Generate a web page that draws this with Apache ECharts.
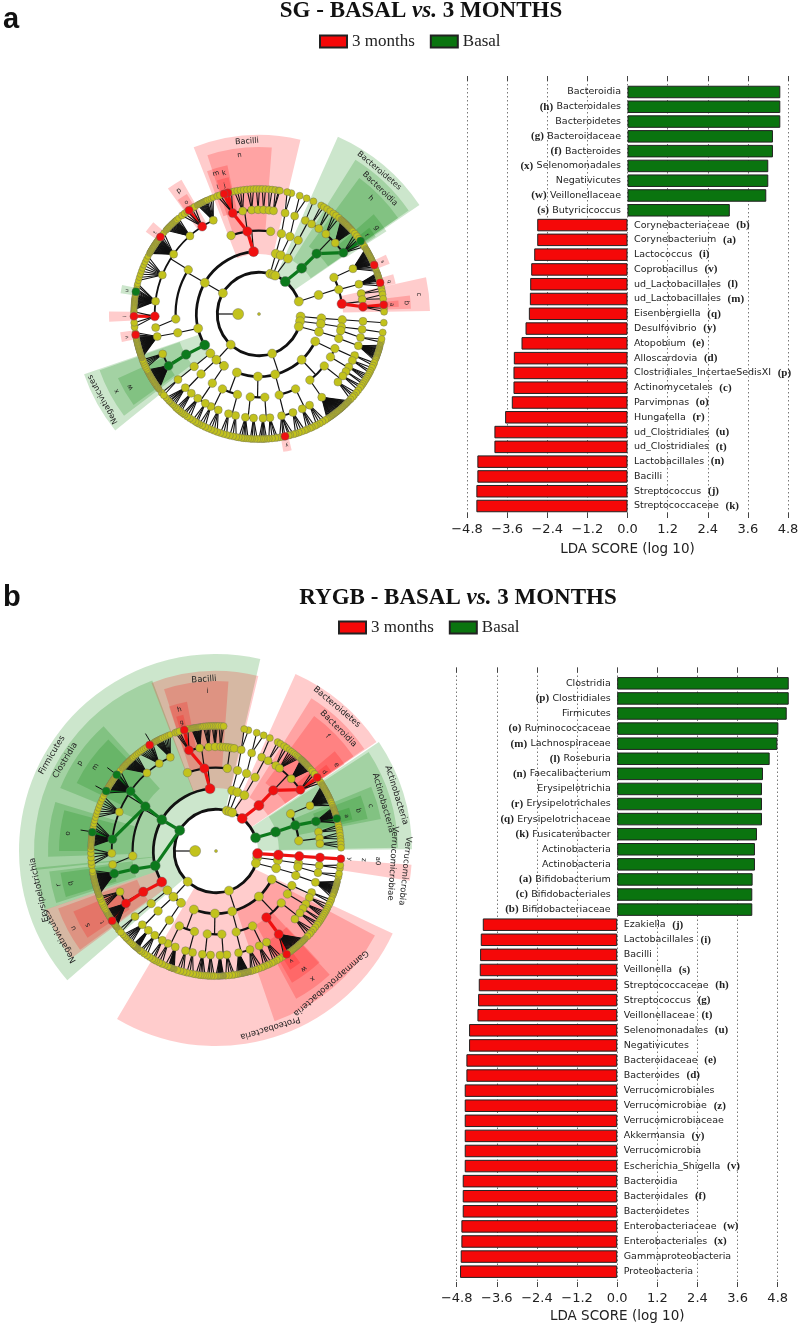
<!DOCTYPE html>
<html>
<head>
<meta charset="utf-8">
<style>html,body{margin:0;padding:0;background:#fff}#c{width:800px;height:1325px}</style>
<script src="https://cdn.jsdelivr.net/npm/echarts@6/dist/echarts.min.js"></script>
</head>
<body>
<div id="c"></div>
<script>
// ---------- LDA bars ----------
const tickLabels = ['\u22124.8','\u22123.6','\u22122.4','\u22121.2','0.0','1.2','2.4','3.6','4.8'];

const sgNames = ['Bacteroidia','Bacteroidales','Bacteroidetes','Bacteroidaceae','Bacteroides','Selenomonadales','Negativicutes','Veillonellaceae','Butyricicoccus','Corynebacteriaceae','Corynebacterium','Lactococcus','Coprobacillus','ud_Lactobacillales','ud_Lactobacillales','Eisenbergiella','Desulfovibrio','Atopobium','Alloscardovia','Clostridiales_IncertaeSedisXI','Actinomycetales','Parvimonas','Hungatella','ud_Clostridiales','ud_Clostridiales','Lactobacillales','Bacilli','Streptococcus','Streptococcaceae'];
const sgTags = ['','(h)','','(g)','(f)','(x)','','(w)','(s)','(b)','(a)','(i)','(v)','(l)','(m)','(q)','(y)','(e)','(d)','(p)','(c)','(o)','(r)','(u)','(t)','(n)','','(j)','(k)'];
const sgScores = [4.57,4.57,4.57,4.35,4.35,4.21,4.21,4.15,3.06,-2.70,-2.70,-2.79,-2.88,-2.91,-2.92,-2.95,-3.05,-3.17,-3.40,-3.41,-3.41,-3.46,-3.66,-3.98,-3.98,-4.49,-4.49,-4.52,-4.52];

const rygbNames = ['Clostridia','Clostridiales','Firmicutes','Ruminococcaceae','Lachnospiraceae','Roseburia','Faecalibacterium','Erysipelotrichia','Erysipelotrichales','Erysipelotrichaceae','Fusicatenibacter','Actinobacteria','Actinobacteria','Bifidobacterium','Bifidobacteriales','Bifidobacteriaceae','Ezakiella','Lactobacillales','Bacilli','Veillonella','Streptococcaceae','Streptococcus','Veillonellaceae','Selenomonadales','Negativicutes','Bacteroidaceae','Bacteroides','Verrucomicrobiales','Verrucomicrobiae','Verrucomicrobiaceae','Akkermansia','Verrucomicrobia','Escherichia_Shigella','Bacteroidia','Bacteroidales','Bacteroidetes','Enterobacteriaceae','Enterobacteriales','Gammaproteobacteria','Proteobacteria'];
const rygbTags = ['','(p)','','(o)','(m)','(l)','(n)','','(r)','(q)','(k)','','','(a)','(c)','(b)','(j)','(i)','','(s)','(h)','(g)','(t)','(u)','','(e)','(d)','','(z)','','(y)','','(v)','','(f)','','(w)','(x)','',''];
const rygbScores = [5.13,5.13,5.07,4.82,4.79,4.56,4.36,4.33,4.33,4.33,4.18,4.12,4.12,4.05,4.04,4.04,-4.02,-4.08,-4.10,-4.11,-4.14,-4.16,-4.18,-4.43,-4.43,-4.51,-4.51,-4.56,-4.56,-4.56,-4.56,-4.56,-4.56,-4.62,-4.62,-4.62,-4.66,-4.66,-4.68,-4.70];

// ---------- Cladograms: [angle (deg clockwise from top), optional 'r'|'g', ...children]; a bare number is a leaf ----------
const sgTree = [270,
 [93.5,[94,[94,[94,94]]]],
 [100,[99,[99,[98.5,98.5]]]],
 [107.5,[106.5,[101.5,[103,103,101.5]],[107,[107.7,104.5,105,105.5,106,106.3,106.7,107,107.4,107.8,108.2,108.6,109,109.5,110,110.3,110.7,111.2,112]]]],
 [161.6,
  [116,[114.5,[113.5,113,114.3],[116.5,115.5,117,118]],[121,[120.5,119,120,121,122],[123.5,123,124]]],
  [137,[128.5,[126.5,125,126,127.5],[130.8,129,130.5,131.5,133]],[142.4,[143,134,134.5,135,135.4,135.8,136.2,136.6,137,137.5,137.9,138.2,138.6,139,139.4,139.8,140.2,140.7,141.1,141.5,142,142.4,142.9,143.3,143.8,144.2,144.6,145,145.5,146,146.5,147]]],
  [165,[154,[151,148,149.5,151,152.5],[155.5,153.5,155,156,157.5]],[166,[161,158.5,160,161.5,163],[167.5,164,165.5,166.3,[168,'r'],169,170.5]]],
  [181,[176,[174,171.5,172.5,174,175.5],[177.8,176.5,177.5,178.2,179,180]],[186,[183,180.8,182,183.2,184],[187.5,185,186,187,188,189.3]]],
  [200.7,[195,[193,190.5,192,193.5],[197,195,196.5,198]],[206,[203,199.5,201,202.5,204],[207.5,205.5,207,208.5]]]],
 [222.7,
  [214,[214,[211,209.5,210.5,212],[216,213.5,215,216.5,217.5]]],
  [223,[224,[220.5,218.5,219.5,220.5,221.5],[225,222.5,223.5,224.5,225.5,226,227,228]]],
  [231,[231,[231,231,229.5]]]],
 [300,
  [240.2,'g',[240.9,'g',[240.2,'g',233,233.4,233.8,234.2,234.6,235,235.4,235.8,236.2,236.6,237,237.4,237.8,238.2,238.6,239,239.4,239.8,240.2,240.6,241,241.4,241.8,242.2,242.6,243,243.4],[247.5,244.5,245.5,246.5,247.5,248.5]]],
  [256.7,[257,[257.5,[260.4,'r'],249.5,249.9,250.3,250.7,251,251.4,251.8,252.2,252.5,252.9,253.2,253.6,254,254.4,254.8,255.2,255.5,255.9,256.3,256.7,257,257.4,257.8,258.2,258.5,258.9,259.2,259.8,261.5]]],
  [300,[266.6,262.5],
   [302,
    [268.7,'r',[269,'r'],264,266,271],
    [277,[280.3,'g'],272,272.5,273,273.5,274,274.5,275,275.4,275.8,276.2,276.6,277,277.4,277.8,278.2,278.6,279,279.6,280.8,281.5,283,284],
    [292,285.5,287,288.5,290,291.5,293,294.5,296,297.5],
    [305,[308,'r'],299,299.4,299.8,300.2,300.6,301,301.4,301.8,302.2,302.6,303,303.4,303.8,304.2,304.6,305,305.4,305.8,306.2,306.6,307,307.5,309,310.5],
    [318.5,312,312.5,313,313.5,314,314.5,315,315.5,316,316.5,317,317.5,318,318.5,319,320],
    [327,'r',[326,'r'],322,323.5,325,327.5,329],
    [334,330.5,331,331.5,332,332.5,333,333.5,334,334.5,335,335.5,336.5,337.5,338.5]]],
  [355,'r',[340.4],
   [352,'r',[345.4,'r',[345.6,'r'],[343.8,'r'],340.5,341.8,347.3],[351,348.6,350,351.5,353],[356,354.5,356,357.5],[359.5,358.8,360.2],[362.5,361.5,363],[365.5,364.5,366],[368,367.5,369,369.6]],
   [368]]],
 [375.5,[15.6,[15.6,[14.5,15,13]]]],
 [379.6,[20.4,[21.8,[20,19,22.4]]]],
 [383,[27.6,[28,[26.4,25.8],[30.3,29.8,31.2],[35,33,34.7]]]],
 [399,'g',[43,'g',[43.7,'g',[39.9,36.5,38,39.8],[47,41,41.4,41.7,42.1,42.4,42.8,43.1,43.5,43.8,44.2,44.5,44.9,45.2,45.6,46,46.4,46.8,47.2,47.6,48,48.5],[54,'g',[54.3,'g'],50,51.5,53,56,57.5]]]],
 [432.6,[72.3,
   [64,[64.3,58.5,59,59.3,59.7,60,60.4,60.8,61.2,61.6,62,62.4,62.8,63.2,63.6,64,64.4,64.8,65.2,65.6,66,66.3,66.7,[67,'r'],68,69,70]],
   [73,[73.4,70.8,71.2,71.5,71.9,72.2,72.6,73,73.4,73.8,74.2,74.6,[75.5,'r'],77]],
   [83,'r',[78.7,78,79.5],[82,81,83],[86,'r',[85.8,'r'],87.5,89]]]]
];

const rygbTree = [270,
 [93.6,'r',[93.6,'r',[93.6,'r',[93.6,'r',[93.6,'r']]]]],
 [99,[98.5,[98.5,[98,98,96.5]]]],
 [107,[106,[101,[102,102,100.5]],[107,[107.5,104,104.5,105,105.5,106,106.4,106.8,107.2,107.5,107.9,108.3,108.7,109,109.5,110,110.5,111,112]]]],
 [161.9,
  [117,[114.5,[113.5,113,114.3],[116.5,115.5,117,118]],[121,[120.5,119,120,121,122],[123.5,123,124]]],
  [136.7,[128.5,[126.5,125,126,127.5],[130.8,129,130.5,131.5,133]],[142.8,'r',[143,'r',[145.6,'r'],134.5,135,135.5,136,136.5,137,137.5,138,138.5,139,139.5,140,140.5,141,141.5,142,142.5,143,143.5,144,144.5,147]]],
  [165,[154,[151,148,149.5,151,152.5],[155.5,153.5,155,156,157.5]],[166,[161,158.5,160,161.5,163,164],[167.5,164.8,165.2,165.5,165.9,166.3,166.6,167,167.3,167.7,168,168.4,168.8,169.1,169.5,169.8,170.5]]],
  [181,[176,[174,171.5,172.5,174,175.5],[177.8,176.5,176.9,177.2,177.6,177.9,178.3,178.6,179,179.3,180]],[186,[183,180.8,182,183.2,184],[187.5,185,186,187,188,189.3]]],
  [200.7,[195,[193,190.5,192,193.5],[197,195,196.5,198]],[206,[203,199.5,199.9,200.3,200.7,201,201.4,201.8,202.2,202.5,204],[207.5,205.5,207,208.5]]]],
 [222.7,
  [214,[214,[211,209.5,210.5,212],[216,213.5,215,216.5,217.5]]],
  [223,[224,[220.5,218.5,218.9,219.3,219.7,220,220.4,220.8,221.2,221.5],[225,222.5,223.5,224.5,225.5,226,227,228]]],
  [231,[231,[231,231,229.5]]]],
 [299.6,'g',
  [240.2,'r',[240.7,'r',[239.8,'r',[236.1,'r'],232.5,232.9,233.3,233.7,234,234.5,235,235.5,236.5,237,237.5,238,238.4,238.8,239.2,239.6,240,240.4,240.8,241.2,241.6,242],[247,243,244,245,246,[247.5],248.5]]],
  [256.4,'g',[257.5,'g',[257.5,'g',249.5,249.9,250.3,250.7,251,251.4,251.8,252.2,252.5,252.9,253.2,253.6,254,254.4,254.8,255.2,255.5,255.9,256.3,256.7,257,257.4,257.8,258.2,258.5,258.9,259.2,259.6,260,261]]],
  [300,'g',[266.6,262.5],
   [302.2,'g',
    [268.7,263.5,265,267,269,271],
    [276.5,'g',[278.6,'g'],272,272.5,273,273.5,274,274.5,275,275.4,275.8,276.2,276.6,277,277.4,277.8,280,281,282.5,284],
    [292,285.5,287,288.5,290,291.5,293,294.5,296],
    [305,'g',[298.6,'g'],[307.5,'g'],297.5,299.5,299.9,300.3,300.7,301,301.4,301.8,302.2,302.6,303,303.4,303.8,304.2,304.6,305,305.4,305.8,306.2,306.6,308.5,310],
    [318.5,311.5,312,312.5,313,313.5,314,314.5,315,315.5,316,316.5,317,317.5,318,318.5,319.5,320.5],
    [327,321.5,322.5,323.5,324.5,325.5,326.5,327.5,[328,'r'],328.5,329.5],
    [334,330.5,331,331.5,332,332.5,333,333.5,334,334.5,335.5,336.5,337.5,338.5]]],
  [354.5,'r',[340],
   [352,'r',[345,'r',[345.3,'r'],341,342,343,347],[351,348.6,349,349.4,349.8,350.2,350.6,351,351.4,351.8,352.2,352.6,353,353.4],[356,354.2,355,355.8,356.6,357.4],[359.5,358.2,359,359.8,360.6],[362.5,361.4,362.5,363.5]],
   [367.8,364,365.5,367,368.5,370]]],
 [375,[15,[15,[14,15,13]]]],
 [379,[20,[21.5,[20,19,22.4]]]],
 [383,[27,[28,[26,25.5],[30,29.5,31],[35,33,34.5]]]],
 [398.9,'r',[43.3,'r',[43.4,'r',[37.5,36,37.2,38.4,39.4,40.4,41.2,42],[46.2,42.8,43.2,43.5,43.9,44.2,44.6,44.9,45.3,45.6,46,46.3,46.7,47,47.4,47.8,48.2,48.6,49,49.4],[54,'r',[54,'r'],50.5,52,55.5,57]]]],
 [431.6,'g',[72.3,'g',
   [63.5,[64.3,58,58.4,58.8,59.2,59.6,60,60.4,60.8,61.2,61.6,62,62.4,62.8,63.2,63.6,64,64.4,64.8,65.2,65.6,66,66.4,66.8,67.6,68.6]],
   [72.1,'g',[73.5,'g',[75,'g'],69.5,70,70.5,70.9,71.2,71.6,72,72.4,72.8,73.2,73.6,74,74.4,76,77]],
   [83,[79.5,78,79.2,80.5],[83,81.5,83,84.5],[86,85.5,87,88.5]]]]
];

// Thin leader lines past the outer ring: [from radius, to radius, angle]
const sgSpikes = [];
const rygbSpikes = [[125,137,298.4],[125,137,307.5],[125,137,278.8],[125,137,329]];

// Shaded clades: [inner radius, outer radius, from angle, to angle, colour key]
const sgSectors = [
 [60,179,338.6,373.4,'r'],[84,167,342,364.4,'r'],[104,152,340,348,'r'],[125,140,342.5,347.5,'r'],
 [42,194,24,55.8,'g'],[63,182,32,55.3,'g'],[84,169,36.4,55.4,'g'],[104,152,49,57,'g'],[125,140,52,56.5,'g'],
 [84,171,77.6,89,'r'],[104,152,83,88,'r'],[125,140,84.5,87,'r'],
 [63,185,231,251,'g'],[84,169,233,250.6,'g'],[104,155,234,245.5,'g'],
 [104,155,324,330,'r'],[125,140,324.5,329,'r'],
 [125,140,306,311,'r'],[125,140,65,69,'r'],[125,140,73.5,77.5,'r'],
 [125,140,278.5,282,'g'],[125,150,267,271,'r'],[125,140,258.5,262.5,'r'],[125,140,166.5,170,'r']
];
const rygbSectors = [
 [42,197,229,373,'g'],[63,182,264,339.5,'g'],[84,168,292,318,'g'],[104,155,296,316,'g'],[84,168,268,287,'g'],[104,157,270,285,'g'],
 [63,181,251,264.7,'g'],[84,168,252,263,'g'],[104,157,253,262,'g'],
 [63,180,233.4,251,'r'],[84,168,234,250,'r'],[104,155,236,247,'r'],
 [63,180,339,373.6,'r'],[84,170,342.2,364.2,'r'],[104,152,342,349,'r'],[125,140,343.5,346.5,'r'],
 [42,194,24.2,55.8,'r'],[63,180,32,55.5,'r'],[84,167,36,55.5,'r'],[104,155,50,56,'r'],[125,140,52,55.5,'r'],
 [42,196,56.2,89.5,'g'],[63,182,57,89,'g'],[84,168,67.5,79,'g'],[104,155,69,78,'g'],[125,140,72,77,'g'],
 [125,196,94,98.7,'r'],
 [42,195,115,210.5,'r'],[63,180,118,161,'r'],[84,168,137.4,151.5,'r'],[104,152,137,150,'r'],[125,140,143,148,'r']
];

// Clade labels: [radius, angle, text, size]
const sgLabels = [
 [173,356,'Bacilli',8],[160,353,'n',7],[147,343,'m',7],[145,346,'k',7],[133,342,'l',6],[133,345,'j',6],
 [187,40,'Bacteroidetes',8],[174,44,'Bacteroidia',8],[161,44,'h',7],[146,53.8,'g',7],[133,53.8,'f',6],
 [161,83,'c',7],[148,85.7,'b',7],[133,86,'a',6],[147,327,'p',7],[133,327,'o',6],
 [178,241.3,'Negativicutes',8],[162,241.5,'x',7],[148,240.4,'w',7],
 [132,308,'t',5],[134,67,'s',5],[134,76,'q',5],[134,280,'u',5],[134,269,'l',5],[134,260,'v',5],[134,168,'y',5]
];
const rygbLabels = [
 [190,300.3,'Firmicutes',8.5],[176,301,'Clostridia',8.5],[162,302.8,'p',7],[147,304.9,'m',7],[149,276.8,'o',7],
 [181,257.6,'Erysipelotrichia',8.5],[161,257.8,'r',7],[149,257.4,'q',7],
 [178,241.2,'Negativicutes',8.5],[162,241.6,'u',7],[148,240,'s',7],[134,238,'t',6],
 [172,356,'Bacilli',8.5],[160,357,'i',7],[146,345.5,'h',7],[133,345,'g',6],
 [188,40,'Bacteroidetes',8.5],[173,45,'Bacteroidia',8.5],[160,44.2,'f',7],[148,54.5,'e',7],[134,54,'d',6],
 [189,72.8,'Actinobacteria',8.5],[174,74,'Actinobacteria',8.5],[161,73.7,'c',7],[148,74.2,'b',7],[135,75,'a',6],
 [190,96,'Verrucomicrobia',8.5],[177,94,'Verrucomicrobiae',8.5],[162,93.5,'a0',7],[148,93.5,'z',7],[134,93.5,'y',6],
 [185,163,'Proteobacteria',8.5],[175,139,'Gammaproteobacteria',8.5],[160,143,'x',7],[147,143.3,'w',7],[133,145.6,'v',6]
];

// ---------- build ----------
const RING = 20.85;
const nodeColor = {y:'#c2c21c', r:'#f01010', g:'#0c7a1c'};
const sectorFill = {r:'rgba(255,0,0,0.2)', g:'rgba(0,128,0,0.2)'};
const arcWidth = {2:2.9, 3:2.7, 4:2.2, 5:1.8};
const nodeSize = {1:11, 2:9, 3:9, 4:8.5, 5:8, 6:7};
const norm = a => ((a % 360) + 360) % 360;

function flatten(tree, spikes) {
  const nodes = {y:[[0,0,3]], r:[], g:[]}, links = [], arcs = [];
  (function walk(n, level, fanLeaf) {
    const isNum = typeof n === 'number';
    const angle = isNum ? n : n[0];
    const col = (!isNum && typeof n[1] === 'string') ? n[1] : 'y';
    const kids = isNum ? [] : n.slice(col === 'y' ? 1 : 2);
    const size = fanLeaf && col === 'y' ? 6.2 : nodeSize[level] + (col === 'y' ? 0 : 1);
    nodes[col].push([level * RING, norm(angle), size]);
    if (!kids.length) return;
    const kidAngle = k => typeof k === 'number' ? k : k[0];
    const kidCol = k => (typeof k !== 'number' && typeof k[1] === 'string') ? k[1] : 'y';
    const childLevel = level + 1;
    if (childLevel === 6 || kids.length === 1) {
      kids.forEach(k => {
        const both = col !== 'y' && col === kidCol(k);
        links.push([level * RING, norm(angle), childLevel * RING, norm(kidAngle(k)), both ? col : 'k', both ? 3.2 : 1.1]);
      });
    } else {
      const as = kids.map(kidAngle);
      const lo = Math.min.apply(null, as), hi = Math.max.apply(null, as);
      arcs.push([childLevel * RING, lo, hi, arcWidth[childLevel]]);
      links.push([level * RING, norm(angle), childLevel * RING, norm(angle), 'k', 1.2]);
      kids.forEach(k => {
        if (col !== 'y' && col === kidCol(k)) links.push([level * RING, norm(angle), childLevel * RING, norm(kidAngle(k)), col, 3.2]);
      });
    }
    kids.forEach(k => walk(k, childLevel, childLevel === 6 && kids.length > 6));
  })(tree, 1, false);
  spikes.forEach(s => links.push([s[0], s[2], s[1], s[2], 'k', 1]));
  return {nodes, links, arcs};
}

const option = {
  animation:false, backgroundColor:'#fff',
  title:[], legend:[], grid:[], xAxis:[], yAxis:[], polar:[], angleAxis:[], radiusAxis:[], series:[]
};

function head(cfg) {
  option.title.push({text:cfg.letter, left:cfg.letterX, top:cfg.letterY, textStyle:{fontFamily:'Liberation Sans', fontWeight:'bold', fontSize:29, color:'#111'}});
  option.title.push({
    text:'{b|'+cfg.titleA+' }{i|vs.}{b| 3 MONTHS}', left:cfg.titleX, top:cfg.titleY, textAlign:'center',
    textStyle:{rich:{
      b:{fontFamily:'Liberation Serif', fontWeight:'bold', fontSize:23, color:'#111'},
      i:{fontFamily:'Liberation Serif', fontWeight:'bold', fontStyle:'italic', fontSize:23, color:'#111'}
    }}
  });
  option.legend.push({
    data:['3 months','Basal'], left:cfg.legendX, top:cfg.legendY, itemWidth:27, itemHeight:12, itemGap:15, icon:'rect', selectedMode:false,
    textStyle:{fontFamily:'Liberation Serif', fontSize:17, color:'#222'}
  });
}

function bars(cfg) {
  const g = option.grid.length;
  const tickStyle = {lineStyle:{color:'#444', width:1}, length:5, inside:true};
  option.grid.push({left:cfg.left, width:cfg.width, top:cfg.frameTop, height:cfg.frameBottom - cfg.frameTop, outerBoundsMode:'none'});
  // the bar plot runs past the last tick so scores above 4.8 stay whole
  option.grid.push({left:cfg.left, width:cfg.width * 10.8 / 9.6, top:cfg.barTop, height:cfg.barBottom - cfg.barTop, outerBoundsMode:'none'});
  const x = option.xAxis.length;
  option.xAxis.push({
    gridIndex:g, type:'value', min:-4.8, max:4.8, interval:1.2, position:'bottom',
    name:'LDA SCORE (log 10)', nameLocation:'middle', nameGap:cfg.nameGap,
    nameTextStyle:{fontFamily:'DejaVu Sans', fontSize:13.5, color:'#222'},
    axisLine:{show:false}, axisTick:Object.assign({show:true}, tickStyle),
    axisLabel:{margin:5, fontFamily:'DejaVu Sans', fontSize:13, color:'#222', hideOverlap:false, showMinLabel:true, showMaxLabel:true,
      formatter:v => tickLabels[Math.round((v + 4.8) / 1.2)]},
    splitLine:{show:true, lineStyle:{type:[1.5,2.5], color:'#777', width:1}}
  });
  option.xAxis.push({
    gridIndex:g, type:'value', min:-4.8, max:4.8, interval:1.2, position:'top',
    axisLine:{show:false}, axisTick:Object.assign({show:true}, tickStyle), axisLabel:{show:false}, splitLine:{show:false}
  });
  option.xAxis.push({gridIndex:g+1, type:'value', min:-4.8, max:6, interval:1.2, show:false});
  const y = option.yAxis.length;
  option.yAxis.push({gridIndex:g, type:'value', min:0, max:1, show:false});
  option.yAxis.push({gridIndex:g+1, type:'category', inverse:true, data:cfg.names, show:false});
  const rich = {
    n:{fontFamily:'DejaVu Sans', fontSize:9.5, color:'#222'},
    t:{fontFamily:'Liberation Serif', fontWeight:'bold', fontSize:11, color:'#222'}
  };
  const mk = (name, color, keep, pos, fmt) => ({
    type:'bar', name, xAxisIndex:x+2, yAxisIndex:y+1, barWidth:12.5, barGap:'-100%', z:3,
    itemStyle:{color, borderColor:'#222', borderWidth:1},
    data:cfg.scores.map(v => keep(v) ? v : null),
    label:{show:true, position:pos, distance:6.5, rich, formatter:p => fmt(cfg.names[p.dataIndex], cfg.tags[p.dataIndex])}
  });
  option.series.push(mk('3 months', '#f50808', v => v < 0, 'right', (n,t) => '{n|'+n+'}'+(t ? '  {t|'+t+'}' : '')));
  option.series.push(mk('Basal', '#0a740f', v => v > 0, 'left', (n,t) => (t ? '{t|'+t+'} ' : '')+'{n|'+n+'}'));
}

function clado(cfg) {
  const p = option.polar.length;
  option.polar.push({center:cfg.center, radius:208.5});
  option.angleAxis.push({polarIndex:p, type:'value', min:0, max:360, startAngle:90, clockwise:true, show:false});
  option.radiusAxis.push({polarIndex:p, type:'value', min:0, max:208.5, show:false});
  const t = flatten(cfg.tree, cfg.spikes);
  const base = {type:'custom', coordinateSystem:'polar', polarIndex:p, silent:true, encode:{radius:0, angle:1}};
  const rad = (api, cs, r, a) => { const q = api.coord([r, norm(a)]); return [q[0]-cs.cx, q[1]-cs.cy]; };
  option.series.push(Object.assign({}, base, {
    z:1, data:cfg.sectors.map(s => [s[0], norm(s[2])]),
    renderItem(params, api) {
      const s = cfg.sectors[params.dataIndex], cs = params.coordSys;
      const a = rad(api, cs, s[0], s[2]), b = rad(api, cs, s[1], s[2]);
      const start = Math.atan2(a[1], a[0]);
      return {type:'sector', shape:{cx:cs.cx, cy:cs.cy, r0:Math.hypot(a[0],a[1]), r:Math.hypot(b[0],b[1]),
        startAngle:start, endAngle:start + (s[3]-s[2])*Math.PI/180, clockwise:true}, style:{fill:sectorFill[s[4]]}};
    }
  }));
  option.series.push(Object.assign({}, base, {
    z:2, data:t.arcs.map(s => [s[0], norm(s[1])]),
    renderItem(params, api) {
      const s = t.arcs[params.dataIndex], cs = params.coordSys;
      const a = rad(api, cs, s[0], s[1]);
      const start = Math.atan2(a[1], a[0]);
      return {type:'arc', shape:{cx:cs.cx, cy:cs.cy, r:Math.hypot(a[0],a[1]), startAngle:start, endAngle:start+(s[2]-s[1])*Math.PI/180, clockwise:true},
        style:{fill:null, stroke:'#111', lineWidth:s[3]}};
    }
  }));
  option.series.push(Object.assign({}, base, {
    z:2, data:t.links.map(s => [s[0], s[1]]),
    renderItem(params, api) {
      const s = t.links[params.dataIndex];
      const a = api.coord([s[0], s[1]]), b = api.coord([s[2], s[3]]);
      return {type:'line', shape:{x1:a[0], y1:a[1], x2:b[0], y2:b[1]},
        style:{stroke:s[4] === 'k' ? '#111' : nodeColor[s[4]], lineWidth:s[5]}};
    }
  }));
  ['y','g','r'].forEach(c => option.series.push({
    type:'scatter', coordinateSystem:'polar', polarIndex:p, silent:true, z:3, data:t.nodes[c],
    encode:{radius:0, angle:1},
    symbolSize:v => v[2], itemStyle:{color:nodeColor[c], borderColor:'#666', borderWidth:0.4, opacity:1}
  }));
  option.series.push(Object.assign({}, base, {
    z:4, data:cfg.labels.map(s => [s[0], s[1]]),
    renderItem(params, api) {
      const s = cfg.labels[params.dataIndex];
      const q = api.coord([s[0], s[1]]);
      return {type:'text', x:q[0], y:q[1], rotation:-s[1]*Math.PI/180,
        style:{text:s[2], align:'center', verticalAlign:'middle', fontFamily:'DejaVu Sans', fontSize:s[3], fill:'#222'}};
    }
  }));
}

head({letter:'a', letterX:-2, letterY:0, titleA:'SG - BASAL', titleX:416, titleY:-5, legendX:314, legendY:28});
bars({names:sgNames, tags:sgTags, scores:sgScores, left:467, width:321, frameTop:76, frameBottom:518, barTop:84.6, barBottom:513.4, nameGap:24});
clado({center:[259,314], tree:sgTree, spikes:sgSpikes, sectors:sgSectors, labels:sgLabels});

head({letter:'b', letterX:-2, letterY:578, titleA:'RYGB - BASAL', titleX:453, titleY:582, legendX:333, legendY:614});
bars({names:rygbNames, tags:rygbTags, scores:rygbScores, left:456.7, width:321, frameTop:667.5, frameBottom:1287, barTop:675.8, barBottom:1279.2, nameGap:22});
clado({center:[216,851], tree:rygbTree, spikes:rygbSpikes, sectors:rygbSectors, labels:rygbLabels});

echarts.init(document.getElementById('c'), null, {renderer:'canvas'}).setOption(option);
</script>
</body>
</html>
